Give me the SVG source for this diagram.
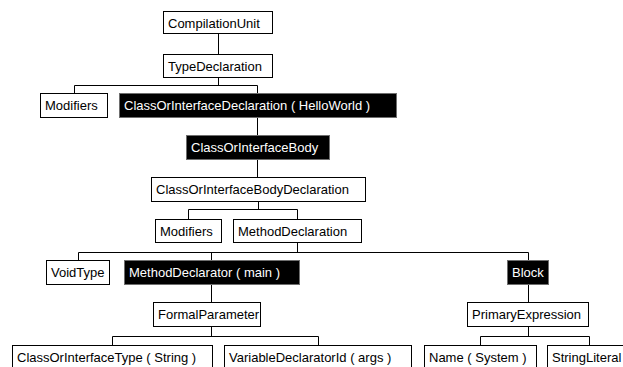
<svg xmlns="http://www.w3.org/2000/svg" width="623" height="367" viewBox="0 0 623 367">
  <style>
    .box rect { fill: #ffffff; stroke: #000000; stroke-width: 1; }
    .dark rect { fill: #000000; stroke: #6e6e6e; stroke-width: 1; }
    text { font-family: "Liberation Sans", Arial, sans-serif; font-size: 13px; fill: #000000; }
    .dark text { fill: #ffffff; }
    #edges path { fill: none; stroke: #000000; stroke-width: 1; }
  </style>
  <rect width="623" height="367" fill="#ffffff"/>

  <!-- tree edges: stem from parent, horizontal bar, drops to children -->
  <g id="edges">
    <path d="M218.5,33V54"/>
    <path d="M218.5,77V85.5M74.5,85.5H257.5M74.5,85.5V93M257.5,85.5V93"/>
    <path d="M257.5,117V135"/>
    <path d="M257.5,159V177"/>
    <path d="M258.5,201V209.5M188.5,209.5H297.5M188.5,209.5V219M297.5,209.5V219"/>
    <path d="M297.5,242V252.5M78.5,252.5H528.5M78.5,252.5V260M211.5,252.5V260M528.5,252.5V260"/>
    <path d="M211.5,284V302"/>
    <path d="M528.5,284V302"/>
    <path d="M211.5,326V336.5M112.5,336.5H318.5M112.5,336.5V345M318.5,336.5V345"/>
    <path d="M528.5,326V336.5M480.5,336.5H589.5M480.5,336.5V345M589.5,336.5V345"/>
  </g>

  <g id="n-compilation-unit" class="box">
    <rect x="163.5" y="11.5" width="109" height="22"/>
    <text x="168" y="27.5">CompilationUnit</text>
  </g>
  <g id="n-type-declaration" class="box">
    <rect x="163.5" y="54.5" width="109" height="23"/>
    <text x="168" y="71">TypeDeclaration</text>
  </g>
  <g id="n-modifiers-1" class="box">
    <rect x="40.5" y="93.5" width="67" height="24"/>
    <text x="45" y="110">Modifiers</text>
  </g>
  <g id="n-class-decl" class="dark">
    <rect x="119.5" y="93.5" width="277" height="24"/>
    <text x="124" y="110">ClassOrInterfaceDeclaration ( HelloWorld )</text>
  </g>
  <g id="n-class-body" class="dark">
    <rect x="186.5" y="135.5" width="143" height="24"/>
    <text x="191" y="152">ClassOrInterfaceBody</text>
  </g>
  <g id="n-body-decl" class="box">
    <rect x="151.5" y="177.5" width="214" height="24"/>
    <text x="156" y="194">ClassOrInterfaceBodyDeclaration</text>
  </g>
  <g id="n-modifiers-2" class="box">
    <rect x="155.5" y="219.5" width="66" height="23"/>
    <text x="160" y="235.5">Modifiers</text>
  </g>
  <g id="n-method-decl" class="box">
    <rect x="233.5" y="219.5" width="128" height="23"/>
    <text x="238" y="235.5">MethodDeclaration</text>
  </g>
  <g id="n-void-type" class="box">
    <rect x="46.5" y="260.5" width="63" height="24"/>
    <text x="51" y="277">VoidType</text>
  </g>
  <g id="n-method-declarator" class="dark">
    <rect x="124.5" y="260.5" width="175" height="24"/>
    <text x="129" y="277">MethodDeclarator ( main )</text>
  </g>
  <g id="n-block" class="dark">
    <rect x="507.5" y="260.5" width="41" height="24"/>
    <text x="512" y="277">Block</text>
  </g>
  <g id="n-formal-parameter" class="box">
    <rect x="153.5" y="302.5" width="107" height="24"/>
    <text x="158" y="319">FormalParameter</text>
  </g>
  <g id="n-primary-expression" class="box">
    <rect x="467.5" y="302.5" width="121" height="24"/>
    <text x="472" y="319">PrimaryExpression</text>
  </g>
  <g id="n-type-string" class="box">
    <rect x="12.5" y="345.5" width="200" height="24"/>
    <text x="17" y="362">ClassOrInterfaceType ( String )</text>
  </g>
  <g id="n-var-decl-id" class="box">
    <rect x="224.5" y="345.5" width="187" height="24"/>
    <text x="229" y="362">VariableDeclaratorId ( args )</text>
  </g>
  <g id="n-name-system" class="box">
    <rect x="424.5" y="345.5" width="112" height="24"/>
    <text x="429" y="362">Name ( System )</text>
  </g>
  <g id="n-string-literal" class="box">
    <rect x="547.5" y="345.5" width="84" height="24"/>
    <text x="552" y="362">StringLiteral</text>
  </g>
</svg>
